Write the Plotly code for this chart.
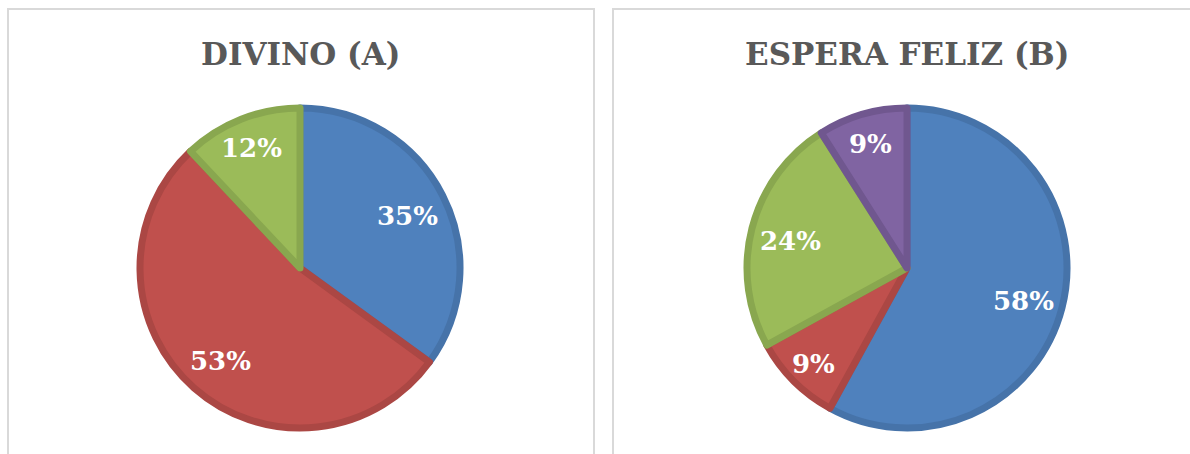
import math
import plotly.graph_objects as go

W, H = 1190, 454

# Data
titles = ["DIVINO (A)", "ESPERA FELIZ (B)"]
labels_a = ["Azul", "Vermelho", "Verde"]
values_a = [35, 53, 12]
labels_b = ["Azul", "Vermelho", "Verde", "Roxo"]
values_b = [58, 9, 24, 9]

fill_colors = ["#4F81BD", "#C0504D", "#9BBB59", "#8064A2"]
edge_colors = ["#4673A9", "#AB4744", "#89A74F", "#70578F"]

CY = 268
R = 160


def dom(cx, cy, r):
    return dict(x=[(cx - r) / W, (cx + r) / W], y=[1 - (cy + r) / H, 1 - (cy - r) / H])


fig = go.Figure()
annotations = []
for labs, vals, cx, title in [(labels_a, values_a, 300, titles[0]), (labels_b, values_b, 907, titles[1])]:
    n = len(vals)
    fig.add_trace(go.Pie(
        labels=labs, values=vals, sort=False, direction="clockwise", rotation=0,
        domain=dom(cx, CY, R),
        marker=dict(colors=fill_colors[:n], line=dict(color=edge_colors[:n], width=7)),
        textinfo="none", showlegend=False, hoverinfo="label+percent",
    ))
    # data labels placed along the mid-angle of each slice
    total = float(sum(vals))
    cum = 0.0
    for v in vals:
        mid = (cum + v / 2) / total * 2 * math.pi
        cum += v
        f = 0.74 if v / total >= 0.2 else 0.81
        x = cx + f * (R + 3) * math.sin(mid)
        y = CY - f * (R + 3) * math.cos(mid) + 3
        annotations.append(dict(
            text="<b>%d%%</b>" % round(v / total * 100), x=x / W, y=1 - y / H,
            xref="paper", yref="paper", xanchor="center", yanchor="middle", showarrow=False,
            font=dict(family="DejaVu Serif", size=26, color="white")))
    annotations.append(dict(
        text="<b>%s</b>" % title, x=cx / W, y=1 - 54 / H, xref="paper", yref="paper",
        xanchor="center", yanchor="middle", showarrow=False,
        font=dict(family="DejaVu Serif", size=31, color="#595959")))

shapes = [
    dict(type="rect", xref="paper", yref="paper", x0=8 / W, x1=594 / W, y0=-0.05, y1=1 - 9 / H,
         line=dict(color="#D9D9D9", width=2)),
    dict(type="rect", xref="paper", yref="paper", x0=613 / W, x1=1.05, y0=-0.05, y1=1 - 9 / H,
         line=dict(color="#D9D9D9", width=2)),
]

fig.update_layout(width=W, height=H, margin=dict(l=0, r=0, t=0, b=0),
                  paper_bgcolor="white", plot_bgcolor="white",
                  shapes=shapes, annotations=annotations)
fig.write_html("out.html", post_script="document.body.style.margin='0';",
               config={"displayModeBar": False})
